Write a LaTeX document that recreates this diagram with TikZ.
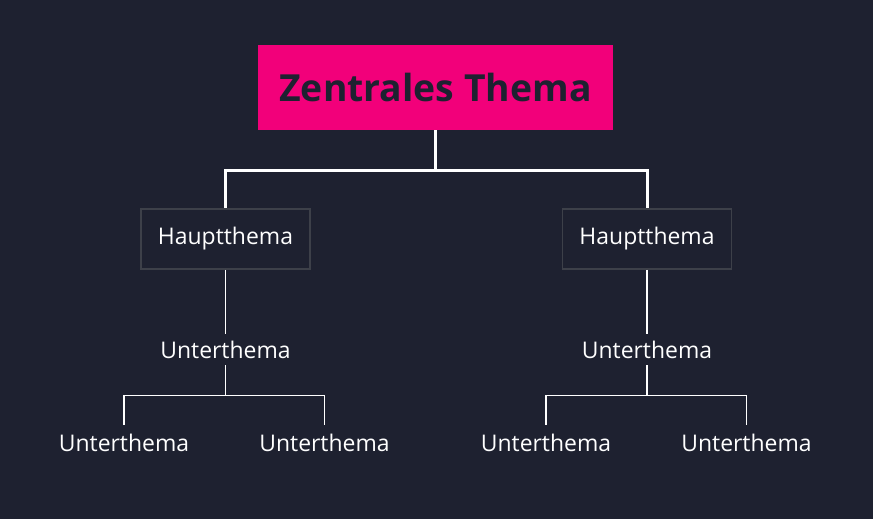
\documentclass[tikz,border=0pt]{standalone}
\usepackage{fontspec}
\setmainfont{Open Sans}
\usepackage{tikz}
\usetikzlibrary{positioning, calc}

\definecolor{bgnavy}{HTML}{1E2130}
\definecolor{hotpink}{HTML}{F2007A}
\definecolor{boxgray}{HTML}{3D4049}

\tikzset{
  topic/.style={fill=hotpink, text=bgnavy, minimum width=266.25pt, minimum height=63.75pt,
    inner sep=0pt, font=\fontsize{28}{33}\selectfont\bfseries},
  mainbox/.style={draw=boxgray, line width=1.2pt, fill=bgnavy, text=white,
    minimum width=126.75pt, minimum height=45pt, inner sep=0pt, font=\fontsize{17.2}{20}\selectfont},
  subtopic/.style={text=white, minimum height=23.25pt, inner sep=0pt, font=\fontsize{17.2}{20}\selectfont},
  leaf/.style={text=white, minimum height=27pt, inner sep=0pt, font=\fontsize{17.2}{20}\selectfont},
  thickline/.style={draw=white, line width=2.25pt},
  thinline/.style={draw=white, line width=1.3pt}
}

\begin{document}
\begin{tikzpicture}[x=0.75pt, y=-0.75pt]
    % Background
    \fill[bgnavy] (0,0) rectangle (873,519);
    \useasboundingbox (0,0) rectangle (873,519);

    % Central topic
    \node[topic] (zentral) at (435.5,87.5) {Zentrales Thema};

    % Main topics
    \node[mainbox] (haupt1) at (225.5,239) {Hauptthema};
    \node[mainbox] (haupt2) at (647,239) {Hauptthema};

    % Sub topics
    \node[subtopic] (unter1) at (225.5,349.5) {Unterthema};
    \node[subtopic] (unter2) at (647,349.5) {Unterthema};

    % Leaves
    \node[leaf] (blatt1) at (124,443) {Unterthema};
    \node[leaf] (blatt2) at (324.5,443) {Unterthema};
    \node[leaf] (blatt3) at (546,443) {Unterthema};
    \node[leaf] (blatt4) at (746.5,443) {Unterthema};

    % Forks
    \coordinate (gabel0) at (435.5,170);
    \coordinate (gabel1) at (225.5,395.5);
    \coordinate (gabel2) at (647,395.5);

    % Connectors
    \draw[thickline] (zentral.south) -- (gabel0);
    \draw[thickline] (gabel0) -| (haupt1.north);
    \draw[thickline] (gabel0) -| (haupt2.north);

    \draw[thinline] (haupt1.south) -- (unter1.north);
    \draw[thinline] (haupt2.south) -- (unter2.north);

    \draw[thinline] (unter1.south) -- (gabel1);
    \draw[thinline] (gabel1) -| (blatt1.north);
    \draw[thinline] (gabel1) -| (blatt2.north);
    \draw[thinline] (unter2.south) -- (gabel2);
    \draw[thinline] (gabel2) -| (blatt3.north);
    \draw[thinline] (gabel2) -| (blatt4.north);

\end{tikzpicture}
\end{document}
